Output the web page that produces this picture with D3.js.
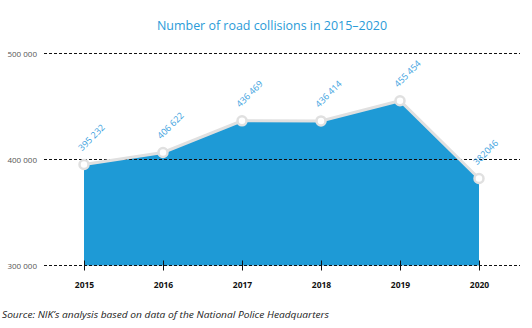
<!DOCTYPE html>
<html>
<head>
<meta charset="utf-8">
<script src="https://cdn.jsdelivr.net/npm/d3@7"></script>
<style>
  html, body { margin: 0; padding: 0; background: #fff; }
  svg { display: block; }
</style>
</head>
<body>
<svg id="chart" width="532" height="328"></svg>
<script>
// Road collisions per year
const years = ["2015", "2016", "2017", "2018", "2019", "2020"];
const collisions = [395232, 406622, 436469, 436414, 455454, 382046];
const valueLabels = ["395 232", "406 622", "436 469", "436 414", "455 454", "382046"];
const yTicks = [300000, 400000, 500000];
const yTickLabels = ["300 000", "400 000", "500 000"];

const svg = d3.select("#chart");
const font = "'Open Sans', 'DejaVu Sans', sans-serif";
const blue = "#1e9ad6";

const x = d3.scalePoint().domain(years).range([84, 479]);
const y = d3.scaleLinear().domain([300000, 500000]).range([265.5, 53.5]);

// Title
svg.append("text")
  .attr("x", 272).attr("y", 30)
  .attr("text-anchor", "middle")
  .attr("font-family", font)
  .attr("font-size", 12.5)
  .attr("fill", "#2a9bd8")
  .attr("textLength", 230)
  .attr("lengthAdjust", "spacingAndGlyphs")
  .text("Number of road collisions in 2015\u20132020");

const data = years.map((yr, i) => ({ year: yr, value: collisions[i], label: valueLabels[i] }));

// Filled area
svg.append("path")
  .datum(data)
  .attr("fill", blue)
  .attr("d", d3.area()
    .x(d => x(d.year))
    .y0(y(300000))
    .y1(d => y(d.value)));

// Gridlines
svg.append("g").selectAll("line")
  .data(yTicks)
  .join("line")
  .attr("x1", 44).attr("x2", 520)
  .attr("y1", d => y(d)).attr("y2", d => y(d))
  .attr("stroke", "#111")
  .attr("stroke-width", 1)
  .attr("stroke-dasharray", "3,2");

// Y labels
svg.append("g").selectAll("text")
  .data(yTicks)
  .join("text")
  .attr("x", 37).attr("y", d => y(d) + 3)
  .attr("text-anchor", "end")
  .attr("font-family", font)
  .attr("font-size", 8)
  .attr("fill", "#555")
  .text((d, i) => yTickLabels[i]);

// X axis
const xAxis = svg.append("g")
  .attr("transform", `translate(0,${y(300000)})`)
  .call(d3.axisBottom(x).tickSize(5).tickPadding(11));
xAxis.select(".domain").remove();
xAxis.selectAll(".tick line")
  .attr("y1", -5).attr("y2", 5)
  .attr("stroke", "#111");
xAxis.selectAll(".tick text")
  .attr("font-family", font)
  .attr("font-size", 8.5)
  .attr("font-weight", "bold")
  .attr("fill", "#111");

// Line over the area
svg.append("path")
  .datum(data)
  .attr("fill", "none")
  .attr("stroke", "#e0e0e0")
  .attr("stroke-width", 3)
  .attr("d", d3.line().x(d => x(d.year)).y(d => y(d.value)));

// Point markers
svg.append("g").selectAll("circle")
  .data(data)
  .join("circle")
  .attr("cx", d => x(d.year))
  .attr("cy", d => y(d.value))
  .attr("r", 4.5)
  .attr("fill", "#fff")
  .attr("stroke", "#e0e0e0")
  .attr("stroke-width", 2.5);

// Value labels, rotated
svg.append("g").selectAll("text")
  .data(data)
  .join("text")
  .attr("transform", d => `translate(${x(d.year) - 2},${y(d.value) - 13}) rotate(-45)`)
  .attr("font-family", font)
  .attr("font-size", 9)
  .attr("fill", "#3a9fe0")
  .text(d => d.label);

// Source note
svg.append("text")
  .attr("x", 2).attr("y", 318)
  .attr("font-family", font)
  .attr("font-size", 9.5)
  .attr("font-style", "italic")
  .attr("fill", "#222")
  .attr("textLength", 327)
  .attr("lengthAdjust", "spacingAndGlyphs")
  .text("Source: NIK\u2019s analysis based on data of the National Police Headquarters");
</script>
</body>
</html>
